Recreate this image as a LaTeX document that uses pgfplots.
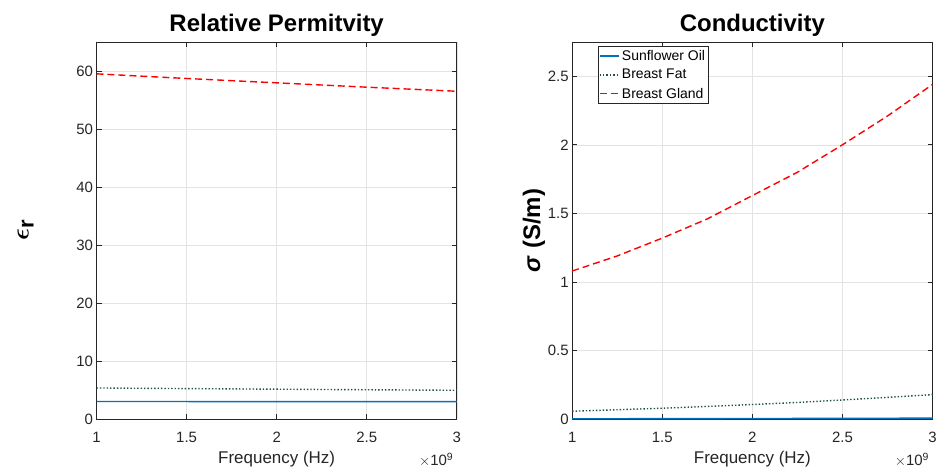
\documentclass[border=0pt]{standalone}
\usepackage{fontspec}
\setmainfont{Liberation Sans}
\usepackage{amsmath,bm}
\usepackage{pgfplots}
\pgfplotsset{compat=1.18}

\definecolor{mblue}{RGB}{0,114,189}
\definecolor{mfat}{RGB}{30,82,70}
\definecolor{axgray}{RGB}{38,38,38}

\pgfplotsset{
  mstyle/.style={
    scale only axis,
    width=361pt, height=378pt,
    anchor=south west,
    xmin=1, xmax=3,
    xtick={1,1.5,2,2.5,3},
    xticklabels={1,1.5,2,2.5,3},
    tick align=inside,
    major tick length=5pt,
    xtick pos=both, ytick pos=both,
    grid=major,
    grid style={gray!22, line width=0.6pt},
    axis line style={axgray, line width=0.7pt},
    tick style={axgray, line width=0.7pt},
    tick label style={font=\fontsize{15}{18}\selectfont, text=axgray},
    xticklabel style={yshift=-9pt},
    /pgf/number format/assume math mode=true,
    xlabel style={font=\fontsize{17}{20}\selectfont, text=axgray, yshift=-2pt},
    title style={font=\fontsize{24}{28}\selectfont\bfseries, yshift=-4pt},
    scaled ticks=false,
    clip mode=individual,
  },
  oil/.style={color=mblue, draw=mblue, line width=1.4pt},
  fat/.style={color=mfat, draw=mfat, line width=1.4pt, dotted},
  gland/.style={color=red, draw=red, line width=1.4pt, dash pattern=on 7pt off 4pt},
}

\begin{document}
\begin{tikzpicture}[x=1pt,y=1pt]
\path (0,0) rectangle (940,473);

% ---------- Relative permittivity ----------
\begin{axis}[mstyle,
  at={(96.7pt,53pt)},
  ymin=0, ymax=65,
  ytick={0,10,20,30,40,50,60},
  xlabel={Frequency (Hz)},
  ylabel={\fontsize{32}{32}\selectfont$\bm{\epsilon}$\raisebox{-5pt}{\fontsize{22}{22}\selectfont\bfseries r}},
  ylabel style={yshift=36pt},
  title={Relative Permitvity},
]
\addplot[oil] coordinates {
(1,3.04) (1.5,3.04) (2,3.03) (2.5,3.03) (3,3.03)
};
\addplot[fat] coordinates {
(1,5.38) (1.5,5.27) (2,5.17) (2.5,5.07) (3,4.98)
};
\addplot[gland] coordinates {
(1,59.5) (1.5,58.7) (2,57.95) (2.5,57.2) (3,56.5)
};
\node[anchor=east, font=\fontsize{15}{18}\selectfont, text=axgray] at (axis description cs:1.0,-0.108) {$\times$10\textsuperscript{9}};
\end{axis}

% ---------- Conductivity ----------
\begin{axis}[mstyle,
  at={(573.3pt,53pt)},
  ymin=0, ymax=2.75,
  ytick={0,0.5,1,1.5,2,2.5},
  yticklabels={0,0.5,1,1.5,2,2.5},
  xlabel={Frequency (Hz)},
  ylabel={\fontsize{24}{28}\selectfont\bfseries\textit{σ} (S/m)},
  ylabel style={yshift=-4pt},
  title={Conductivity},
  legend cell align=left,
  legend style={
    at={(0.071,0.989)}, anchor=north west,
    font=\fontsize{14}{16}\selectfont,
    draw=axgray,
    inner xsep=1pt, inner ysep=2pt,
    row sep=3.5pt,
  },
  legend image post style={xscale=1.15},
]
\addplot[oil] coordinates {
(1,0.003) (1.5,0.004) (2,0.005) (2.5,0.006) (3,0.008)
};
\addlegendentry{Sunflower Oil}
\addplot[fat] coordinates {
(1,0.058) (1.25,0.069) (1.5,0.080) (1.75,0.093) (2,0.107) (2.25,0.122) (2.5,0.140) (2.75,0.159) (3,0.179)
};
\addlegendentry{Breast Fat}
\addplot[gland] coordinates {
(1,1.08) (1.25,1.19) (1.5,1.32) (1.75,1.46) (2,1.63) (2.25,1.80) (2.5,2.00) (2.75,2.21) (3,2.44)
};
\addlegendentry{Breast Gland}
\node[anchor=east, font=\fontsize{15}{18}\selectfont, text=axgray] at (axis description cs:1.0,-0.108) {$\times$10\textsuperscript{9}};
\end{axis}
\end{tikzpicture}
\end{document}
